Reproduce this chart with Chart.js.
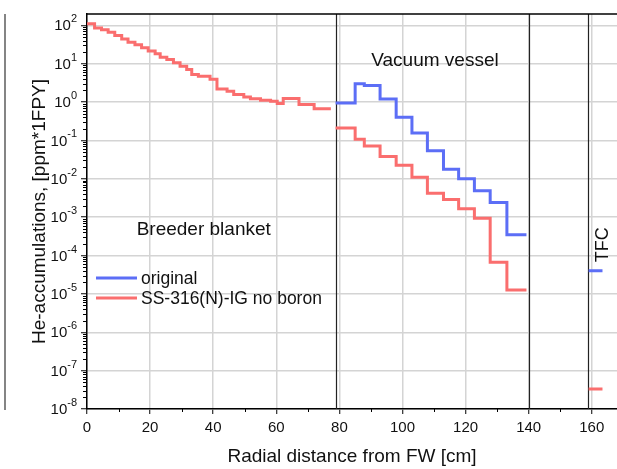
<!DOCTYPE html>
<html>
<head>
<meta charset="utf-8">
<script src="https://cdn.jsdelivr.net/npm/chart.js@4.4.1/dist/chart.umd.min.js"></script>
<style>
  html, body { margin: 0; padding: 0; background: #fff; }
  #wrap { width: 617px; height: 469px; }
</style>
</head>
<body>
<div id="wrap"><canvas id="heChart" width="617" height="469"></canvas></div>
<script>
const seriesNames = ['original', 'SS-316(N)-IG no boron'];
const regionNames = ['Breeder blanket', 'Vacuum vessel', 'TFC'];
const regionBounds = [78.8, 140, 158.7];
const xTicks = [0, 20, 40, 60, 80, 100, 120, 140, 160];
const yTicks = [1e-8, 1e-7, 1e-6, 1e-5, 1e-4, 1e-3, 1e-2, 1e-1, 1e0, 1e1, 1e2];
const xTitle = 'Radial distance from FW [cm]';
const yTitle = 'He-accumulations, [ppm*1FPY]';

// breeder blanket (both cases lie on top of each other here)
const blanketEdges = [0, 2.4, 4.6, 6.7, 8.8, 11, 13, 15.2, 17.3, 19.4, 21.6, 23.2, 25.3, 27.4, 29.5,
    31.6, 33.2, 35.3, 39, 41.2, 44.4, 46.5, 49.7, 51.8, 55, 58.2, 60.3, 62.2, 67.2, 72, 77.3];
const blanketRed = [110, 85, 77, 66, 54, 44, 36, 31, 26, 21.5, 18, 14.7, 12.8, 10.5, 8.6,
    7.0, 5.2, 4.7, 3.9, 2.2, 1.9, 1.57, 1.36, 1.21, 1.11, 1.05, 0.91, 1.23, 0.86, 0.67];

// vacuum vessel
const vesselEdges = [78.8, 85, 87.9, 92.9, 98, 103, 107.9, 113, 117.8, 122.8, 127.8, 133.1, 139.3];
const vesselBlue = [0.94, 3.0, 2.7, 1.2, 0.40, 0.155, 0.054, 0.0176, 0.010, 0.0049, 0.0024, 3.5e-4];
const vesselRed = [0.21, 0.107, 0.072, 0.038, 0.0224, 0.0109, 0.0042, 0.0029, 0.00165, 9.4e-4, 6.7e-5, 1.27e-5];

// toroidal field coil
const tfcEdges = [159, 163.4];
const tfcBlue = [4.0e-5];
const tfcRed = [3.3e-8];

const blue = 'rgb(92,110,246)';
const red = 'rgb(250,110,110)';
const font = "'Liberation Sans', Arial, sans-serif";

function steps(edges, vals) {
    const pts = [];
    for (let i = 0; i < vals.length; i++) {
        pts.push({x: edges[i], y: vals[i]});
        pts.push({x: edges[i + 1], y: vals[i]});
    }
    return pts;
}

function joinParts(parts) {
    let out = [];
    parts.forEach((p, i) => {
        if (i > 0) out.push({x: (out[out.length - 1].x + p[0].x) / 2, y: null});
        out = out.concat(p);
    });
    return out;
}

const decor = {
    id: 'decor',
    beforeDatasetsDraw(chart) {
        const {ctx, chartArea: a, scales: {x}} = chart;
        ctx.save();
        ctx.strokeStyle = '#222';
        ctx.lineWidth = 1.2;
        regionBounds.forEach(b => {
            const px = Math.round(x.getPixelForValue(b)) + 0.5;
            ctx.beginPath();
            ctx.moveTo(px, a.top);
            ctx.lineTo(px, a.bottom);
            ctx.stroke();
        });
        ctx.restore();
    },
    afterDraw(chart) {
        const {ctx, chartArea: a, scales: {x, y}} = chart;
        ctx.save();
        // top frame and outer left frame
        ctx.strokeStyle = '#000';
        ctx.lineWidth = 1.5;
        ctx.beginPath();
        ctx.moveTo(a.left, a.top);
        ctx.lineTo(chart.width, a.top);
        ctx.stroke();
        ctx.lineWidth = 1.2;
        ctx.strokeStyle = '#333';
        ctx.beginPath();
        ctx.moveTo(5, a.top);
        ctx.lineTo(5, a.bottom + 1);
        ctx.stroke();

        // minor ticks
        ctx.strokeStyle = '#000';
        ctx.lineWidth = 1;
        for (let n = -8; n <= 2; n++) {
            for (let k = 2; k <= 9; k++) {
                const v = k * Math.pow(10, n);
                if (v > y.max) continue;
                const py = Math.round(y.getPixelForValue(v)) + 0.5;
                ctx.beginPath();
                ctx.moveTo(a.left - 4, py);
                ctx.lineTo(a.left, py);
                ctx.stroke();
            }
        }
        for (let v = 10; v < x.max; v += 20) {
            const px = Math.round(x.getPixelForValue(v)) + 0.5;
            ctx.beginPath();
            ctx.moveTo(px, a.bottom);
            ctx.lineTo(px, a.bottom + 3);
            ctx.stroke();
        }

        // y tick labels as 10 with raised exponent
        ctx.fillStyle = '#111';
        ctx.textAlign = 'right';
        ctx.textBaseline = 'middle';
        yTicks.forEach(v => {
            const py = y.getPixelForValue(v);
            const e = String(Math.round(Math.log10(v)));
            ctx.font = '11px ' + font;
            const ew = ctx.measureText(e).width;
            ctx.fillText(e, 77, py - 6);
            ctx.font = '15px ' + font;
            ctx.fillText('10', 77 - ew, py + 1);
        });

        // region labels
        ctx.fillStyle = '#111';
        ctx.textAlign = 'center';
        ctx.textBaseline = 'middle';
        ctx.font = '19px ' + font;
        ctx.fillText(regionNames[0], x.getPixelForValue(37), y.getPixelForValue(Math.pow(10, -3.34)));
        ctx.fillText(regionNames[1], x.getPixelForValue(110.3), y.getPixelForValue(Math.pow(10, 1.08)));
        ctx.save();
        ctx.translate(x.getPixelForValue(163.6), y.getPixelForValue(Math.pow(10, -3.72)));
        ctx.rotate(-Math.PI / 2);
        ctx.font = '18px ' + font;
        ctx.fillText(regionNames[2], 0, 0);
        ctx.restore();

        // legend
        ctx.textAlign = 'left';
        ctx.font = '17.5px ' + font;
        [blue, red].forEach((c, i) => {
            const ly = 278 + i * 20;
            ctx.strokeStyle = c;
            ctx.lineWidth = 3;
            ctx.beginPath();
            ctx.moveTo(96, ly);
            ctx.lineTo(137, ly);
            ctx.stroke();
            ctx.fillStyle = '#111';
            ctx.fillText(seriesNames[i], 141, ly + 1);
        });
        ctx.restore();
    }
};

const ctx = document.getElementById('heChart').getContext('2d');
const chart = new Chart(ctx, {
    type: 'line',
    data: {
        datasets: [{
            label: seriesNames[0],
            data: joinParts([steps(vesselEdges, vesselBlue), steps(tfcEdges, tfcBlue)]),
            borderColor: blue,
            borderWidth: 3,
            pointRadius: 0,
            spanGaps: false,
            order: 1
        }, {
            label: seriesNames[1],
            data: joinParts([steps(blanketEdges, blanketRed), steps(vesselEdges, vesselRed), steps(tfcEdges, tfcRed)]),
            borderColor: red,
            borderWidth: 3,
            pointRadius: 0,
            spanGaps: false,
            order: 0
        }]
    },
    options: {
        responsive: false,
        animation: false,
        devicePixelRatio: 1,
        layout: {padding: {top: 14, right: 0, left: 0, bottom: 0}},
        plugins: {
            legend: {display: false},
            tooltip: {enabled: false}
        },
        scales: {
            x: {
                type: 'linear',
                min: 0,
                max: 168,
                afterBuildTicks: s => { s.ticks = xTicks.map(v => ({value: v})); },
                afterFit: s => { s.height = 60; },
                grid: {color: '#d4d4d4', lineWidth: 1.5, tickColor: '#000', tickLength: 5, tickWidth: 1},
                border: {color: '#000', width: 1.5},
                ticks: {color: '#111', font: {family: font, size: 15}, padding: 5, maxRotation: 0},
                title: {display: true, text: xTitle, color: '#111', font: {family: font, size: 19}, padding: {top: 0, bottom: 1}}
            },
            y: {
                type: 'logarithmic',
                min: 1e-8,
                max: 197,
                afterBuildTicks: s => { s.ticks = yTicks.map(v => ({value: v})); },
                afterFit: s => { s.width = 87; },
                grid: {color: '#d4d4d4', lineWidth: 1.5, tickColor: '#000', tickLength: 6, tickWidth: 1},
                border: {color: '#000', width: 1.5},
                ticks: {display: false},
                title: {display: true, text: yTitle, color: '#111', font: {family: font, size: 19}, padding: {top: 28, bottom: 0}}
            }
        }
    },
    plugins: [decor]
});
</script>
</body>
</html>
